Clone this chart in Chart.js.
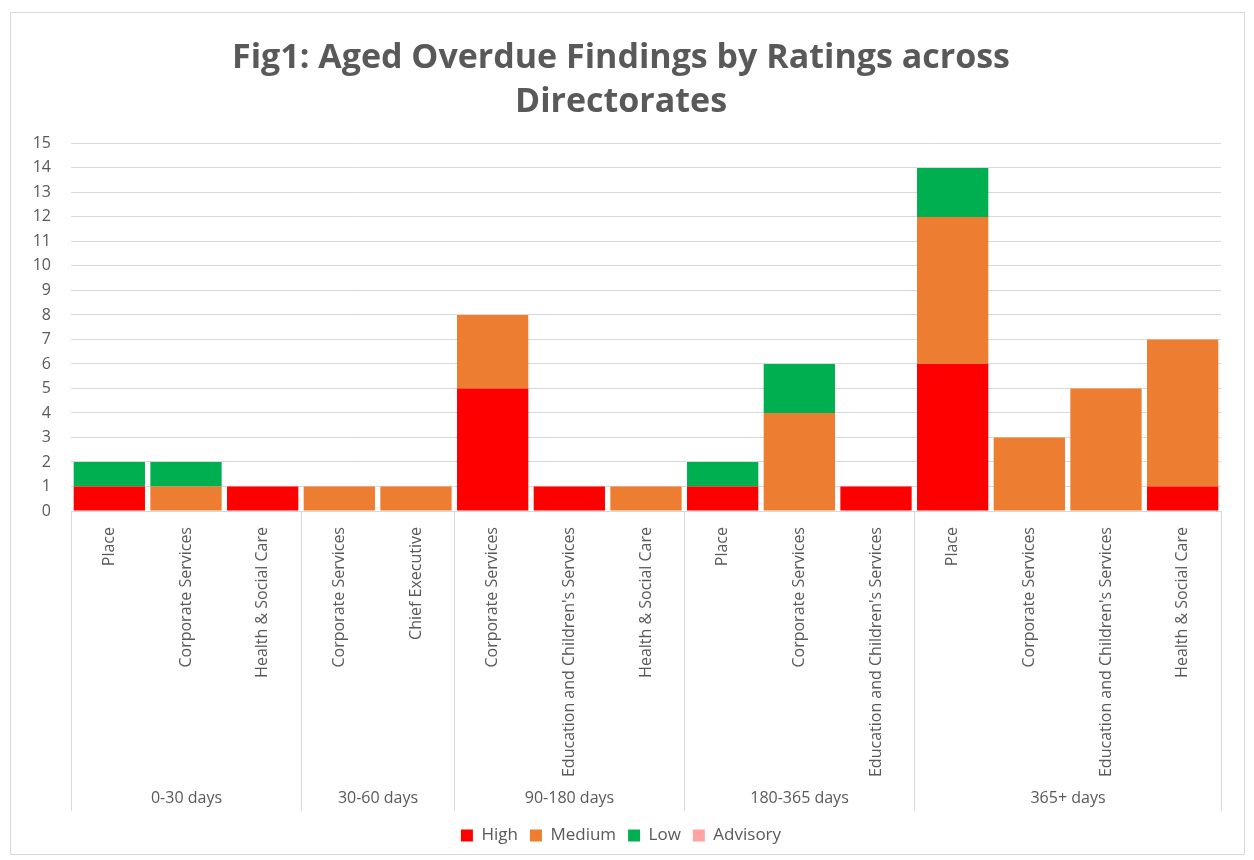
<!DOCTYPE html>
<html>
<head>
<meta charset="utf-8">
<title>Aged Overdue Findings</title>
<script src="https://cdn.jsdelivr.net/npm/chart.js@4.4.0/dist/chart.umd.min.js"></script>
<style>
  body { margin: 0; background: #fff; }
  #wrap {
    position: absolute; left: 10px; top: 12px;
    width: 1235px; height: 843px;
    border: 1px solid #d9d9d9; box-sizing: border-box;
  }
</style>
</head>
<body>
<div id="wrap"><canvas id="chart"></canvas></div>
<script>
// directorates for each bar, and the age band each bar belongs to
const directorates = [
    'Place', 'Corporate Services', 'Health & Social Care',
    'Corporate Services', 'Chief Executive',
    'Corporate Services', "Education and Children's Services", 'Health & Social Care',
    'Place', 'Corporate Services', "Education and Children's Services",
    'Place', 'Corporate Services', "Education and Children's Services", 'Health & Social Care'
];
const ageBands = ['0-30 days', '30-60 days', '90-180 days', '180-365 days', '365+ days'];
const bandSizes = [3, 2, 3, 3, 4];

// counts per rating
const high     = [1, 0, 1, 0, 0, 5, 1, 0, 1, 0, 1, 6, 0, 0, 1];
const medium   = [0, 1, 0, 1, 1, 3, 0, 1, 0, 4, 0, 6, 3, 5, 6];
const low      = [1, 1, 0, 0, 0, 0, 0, 0, 1, 2, 0, 2, 0, 0, 0];
const advisory = [0, 0, 0, 0, 0, 0, 0, 0, 0, 0, 0, 0, 0, 0, 0];

const textColor = '#595959';
const lineColor = '#d9d9d9';
const font = 'Open Sans';

// draws the baseline, band dividers and band names under the directorate labels
const bandAxis = {
    id: 'bandAxis',
    afterDraw(chart) {
        const x = chart.scales.x;
        const ctx = chart.ctx;
        const half = (x.getPixelForValue(1) - x.getPixelForValue(0)) / 2;
        const bottom = x.bottom - 4;
        ctx.save();
        ctx.strokeStyle = lineColor;
        ctx.lineWidth = 1;
        ctx.beginPath();
        ctx.moveTo(x.left, x.top + 0.5);
        ctx.lineTo(x.right, x.top + 0.5);
        ctx.stroke();
        ctx.fillStyle = textColor;
        ctx.font = '16px "' + font + '"';
        ctx.textAlign = 'center';
        ctx.textBaseline = 'middle';
        let start = 0;
        for (let i = 0; i < ageBands.length; i++) {
            const end = start + bandSizes[i] - 1;
            const left = Math.round(x.getPixelForValue(start) - half) + 0.5;
            const right = Math.round(x.getPixelForValue(end) + half) + 0.5;
            ctx.beginPath();
            ctx.moveTo(left, x.top);
            ctx.lineTo(left, bottom);
            ctx.moveTo(right, x.top);
            ctx.lineTo(right, bottom);
            ctx.stroke();
            ctx.fillText(ageBands[i], (left + right) / 2, x.bottom - 17);
            start = end + 1;
        }
        ctx.restore();
    }
};

const ctx = document.getElementById('chart').getContext('2d');
const chart = new Chart(ctx, {
    type: 'bar',
    data: {
        labels: directorates,
        datasets: [
            { label: 'High', data: high, backgroundColor: '#ff0000' },
            { label: 'Medium', data: medium, backgroundColor: '#ed7d31' },
            { label: 'Low', data: low, backgroundColor: '#00b050' },
            { label: 'Advisory', data: advisory, backgroundColor: '#ffa3a3' }
        ]
    },
    options: {
        responsive: true,
        maintainAspectRatio: false,
        animation: false,
        barPercentage: 0.93,
        categoryPercentage: 1,
        layout: { padding: { left: 10, right: 23, top: 0, bottom: 0 } },
        scales: {
            x: {
                stacked: true,
                grid: { display: false },
                border: { display: false },
                ticks: {
                    autoSkip: false,
                    minRotation: 90,
                    maxRotation: 90,
                    padding: 8,
                    color: textColor,
                    font: { family: font, size: 16 }
                },
                afterFit(scale) { scale.height = 304; }
            },
            y: {
                stacked: true,
                min: 0,
                max: 15,
                border: { display: false },
                grid: { color: lineColor, drawTicks: false },
                ticks: {
                    stepSize: 1,
                    padding: 20,
                    color: textColor,
                    font: { family: font, size: 16 }
                },
                afterFit(scale) { scale.width = 50; }
            }
        },
        plugins: {
            title: {
                display: true,
                text: ['Fig1: Aged Overdue Findings by Ratings across', 'Directorates'],
                color: textColor,
                font: { family: font, size: 34, weight: 'bold', lineHeight: 1.3 },
                padding: { top: 23, bottom: 19 }
            },
            legend: {
                position: 'bottom',
                labels: {
                    color: textColor,
                    font: { family: font, size: 17 },
                    boxWidth: 12,
                    boxHeight: 12,
                    padding: 12
                }
            },
            tooltip: { enabled: false }
        }
    },
    plugins: [bandAxis]
});
</script>
</body>
</html>
